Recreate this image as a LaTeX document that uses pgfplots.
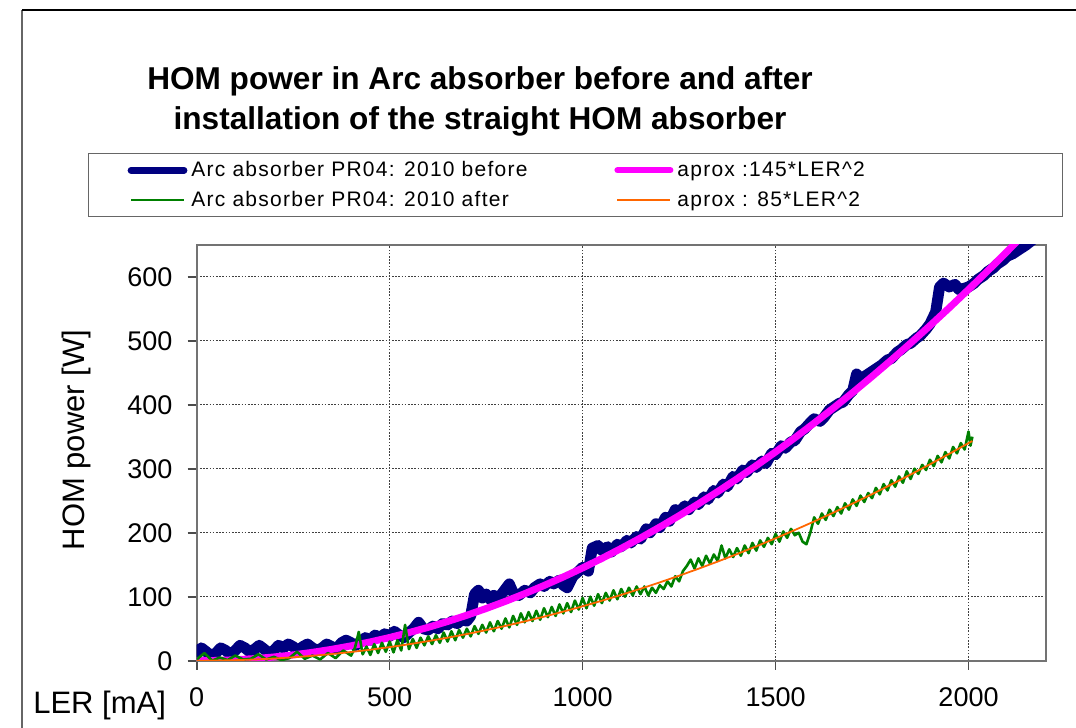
\documentclass[border=0pt]{standalone}
\usepackage{fontspec}
\setmainfont{Liberation Sans}
\newfontfamily\legfont[LetterSpace=6]{Liberation Sans}
\usepackage{pgfplots}
\pgfplotsset{compat=1.18}

\definecolor{navyb}{RGB}{0,0,128}
\definecolor{magb}{RGB}{255,0,255}
\definecolor{grnb}{RGB}{0,128,0}
\definecolor{orb}{RGB}{255,102,0}

\begin{document}
\begin{tikzpicture}
\useasboundingbox (0,0) rectangle (538pt,-364pt);
% outer frame
\draw[black!60, line width=0.7pt] (11pt,-364pt) -- (11pt,-5pt);
\draw[black, line width=0.7pt] (11pt,-5pt) -- (538pt,-5pt);
% title
\node[anchor=base, font=\fontsize{15.8}{18}\selectfont\bfseries, inner sep=0pt] at (240pt,-44.5pt) {HOM power in Arc absorber before and after};
\node[anchor=base, font=\fontsize{15.8}{18}\selectfont\bfseries, inner sep=0pt] at (240pt,-64.5pt) {installation of the straight HOM absorber};

\begin{axis}[
    at={(98.35pt,-330.35pt)}, anchor=south west,
    scale only axis, width=424.5pt, height=208pt,
    xmin=0, xmax=2200, ymin=0, ymax=650,
    xtick={0,500,1000,1500,2000}, ytick={0,100,200,300,400,500,600},
    xtick pos=bottom, ytick pos=left,
    tick align=outside, major tick length=4.5pt,
    grid=major,
    major grid style={black!75, line width=0.6pt, dash pattern=on 0.8pt off 0.8pt},
    axis line style={black!55, line width=1pt},
    tick style={black!70, line width=0.8pt},
    /pgf/number format/assume math mode=true,
    /pgf/number format/set thousands separator={},
    scaled ticks=false,
    ticklabel style={font=\fontsize{13.5}{16}\selectfont},
    xticklabel style={anchor=north, inner sep=0pt, text height=9.7pt, text depth=0pt, yshift=-8.5pt},
    yticklabel style={anchor=east, inner sep=0pt, text height=9.7pt, text depth=0pt, xshift=-7.5pt},
    xlabel={LER [mA]},
    xlabel style={at={(axis description cs:-0.1143,-0.1257)}, anchor=base, inner sep=0pt, font=\fontsize{15.5}{18}\selectfont},
    ylabel={HOM power [W]},
    ylabel style={at={(axis description cs:-0.1316,0.5305)}, anchor=base, inner sep=0pt, font=\fontsize{15.5}{18}\selectfont},
    legend columns=2,
    legend cell align=left,
    legend style={at={(-0.1280,1.2204)}, anchor=north west,
        draw=black!60, line width=0.6pt, fill=white,
        inner xsep=19.5pt, inner ysep=0.8pt, column sep=2pt, row sep=0pt,
        font=\fontsize{10.5}{12}\legfont,
        nodes={inner sep=0pt, text height=10.5pt, text depth=4.5pt}},
]

\addplot[navyb, line width=5.5pt, line join=round, line cap=round,
    legend image code/.code={\draw[navyb, line width=3.4pt, line cap=round] (0pt,0pt) -- (26.5pt,0pt);}]
coordinates {
(0,12) (12,20) (25,14) (37,8) (50,12) (62,20) (75,16) (87,10) (100,16)
(112,24) (125,20) (137,14) (150,18) (162,24) (175,18) (187,12) (200,16)
(212,24) (225,20) (237,26) (250,22) (262,16) (275,22) (287,26) (300,20)
(312,16) (325,20) (337,26) (350,22) (362,18) (375,28) (387,32) (400,28)
(412,24) (425,30) (437,36) (450,32) (462,40) (475,36) (487,42) (500,38)
(512,46) (525,40) (537,36) (550,44) (562,50) (575,60) (587,50) (600,48)
(612,54) (625,50) (637,58) (650,56) (662,62) (675,58) (687,64) (700,62)
(710,70) (720,104) (730,110) (740,98) (750,104) (760,96) (770,102)
(780,94) (790,104) (800,112) (810,120) (820,106) (835,102) (850,110)
(865,106) (875,114) (890,120) (900,116) (915,124) (925,120) (940,126)
(950,118) (960,114) (975,132) (990,140) (1000,146) (1015,140) (1025,176)
(1040,180) (1050,172) (1065,178) (1075,170) (1090,182) (1100,178)
(1115,188) (1125,184) (1140,194) (1150,190) (1165,206) (1175,200)
(1190,214) (1200,208) (1215,224) (1225,218) (1240,236) (1250,232)
(1265,242) (1275,236) (1290,248) (1300,244) (1315,256) (1325,252)
(1340,266) (1350,262) (1365,276) (1375,272) (1390,288) (1400,284)
(1415,298) (1425,294) (1440,306) (1450,302) (1465,312) (1475,308)
(1490,324) (1500,322) (1515,336) (1525,332) (1540,342) (1550,344)
(1565,358) (1575,362) (1590,372) (1600,378) (1615,374) (1625,380)
(1640,392) (1650,396) (1665,402) (1675,404) (1690,416) (1700,422)
(1710,448) (1720,440) (1735,446) (1750,452) (1765,458) (1775,462)
(1790,470) (1800,472) (1815,482) (1825,486) (1840,494) (1850,496)
(1865,504) (1875,508) (1890,518) (1900,526) (1915,545) (1925,584)
(1935,590) (1950,584) (1965,588) (1975,580) (1990,582) (2000,584)
(2015,590) (2025,596) (2040,602) (2050,608) (2065,614) (2075,620)
(2090,626) (2100,632) (2115,636) (2125,640) (2140,646) (2150,650)
(2175,662)
};
\addlegendentry{\makebox[209.5pt][l]{Arc absorber PR04: 2010 before}}

\addplot[magb, line width=3.5pt, line join=round,
    legend image code/.code={\draw[magb, line width=3pt, line cap=round] (0pt,0pt) -- (26.5pt,0pt);}]
coordinates {
(0,0) (50,0.36) (100,1.45) (150,3.26) (200,5.8) (250,9.06) (300,13.05)
(350,17.76) (400,23.2) (450,29.36) (500,36.25) (550,43.86) (600,52.2)
(650,61.26) (700,71.05) (750,81.56) (800,92.8) (850,104.76) (900,117.45)
(950,130.86) (1000,145) (1050,159.86) (1100,175.45) (1150,191.76)
(1200,208.8) (1250,226.56) (1300,245.05) (1350,264.26) (1400,284.2)
(1450,304.86) (1500,326.25) (1550,348.36) (1600,371.2) (1650,394.76)
(1700,419.05) (1750,444.06) (1800,469.8) (1850,496.26) (1900,523.45)
(1950,551.36) (2000,580) (2050,609.36) (2100,639.45) (2150,670.26)
};
\addlegendentry{\makebox[173pt][l]{aprox :145*LER\textasciicircum 2}}

\addplot[grnb, line width=1.3pt, line join=round,
    legend image code/.code={\draw[grnb, line width=1.2pt] (0pt,0pt) -- (26.5pt,0pt);}]
coordinates {
(0,2) (20,12) (40,0) (60,5) (80,1) (100,8) (120,2) (140,3) (160,10) (180,2)
(200,6) (220,1) (240,4) (260,14) (280,3) (300,8) (320,2) (340,12) (360,4)
(380,16) (400,8) (410,20) (420,45) (430,10) (440,22) (450,9) (460,26)
(470,12) (480,28) (490,14) (500,30) (510,13) (520,32) (530,16) (540,56)
(550,18) (560,34) (570,20) (580,36) (590,24) (600,38) (610,26) (620,40)
(630,28) (640,44) (650,30) (660,46) (670,32) (680,48) (690,36) (700,50)
(710,38) (720,54) (730,42) (740,56) (750,44) (760,60) (770,46) (780,62)
(790,50) (800,66) (810,52) (820,70) (830,56) (840,74) (850,60) (860,76)
(870,62) (880,78) (890,64) (900,82) (910,68) (920,84) (930,70) (940,88)
(950,74) (960,90) (970,76) (980,94) (990,80) (1000,98) (1010,82)
(1020,100) (1030,86) (1040,104) (1050,90) (1060,106) (1070,94) (1080,110)
(1090,96) (1100,112) (1110,100) (1120,114) (1130,102) (1140,116)
(1150,104) (1160,116) (1170,102) (1180,114) (1190,106) (1200,118)
(1210,112) (1220,124) (1230,116) (1240,132) (1250,124) (1260,140)
(1270,148) (1280,158) (1290,144) (1300,160) (1310,148) (1320,164)
(1330,152) (1340,166) (1350,156) (1360,180) (1370,160) (1380,174)
(1390,162) (1400,176) (1410,164) (1420,180) (1430,168) (1440,184)
(1450,172) (1460,188) (1470,178) (1480,192) (1490,182) (1500,198)
(1510,186) (1520,202) (1530,192) (1540,206) (1550,196) (1560,200)
(1570,186) (1580,182) (1590,200) (1600,224) (1610,214) (1620,230)
(1630,220) (1640,236) (1650,226) (1660,240) (1670,230) (1680,246)
(1690,236) (1700,252) (1710,242) (1720,258) (1730,248) (1740,262)
(1750,254) (1760,270) (1770,260) (1780,276) (1790,266) (1800,282)
(1810,272) (1820,288) (1830,278) (1840,296) (1850,284) (1860,300)
(1870,292) (1880,306) (1890,298) (1900,314) (1910,304) (1920,320)
(1930,310) (1940,326) (1950,316) (1960,334) (1970,324) (1980,340)
(1990,330) (2000,358) (2005,336) (2010,350)
};
\addlegendentry{\makebox[209.5pt][l]{Arc absorber PR04: 2010 after}}

\addplot[orb, line width=0.9pt, line join=round,
    legend image code/.code={\draw[orb, line width=1.2pt] (0pt,0pt) -- (26.5pt,0pt);}]
coordinates {
(0,0) (50,0.21) (100,0.85) (150,1.91) (200,3.4) (250,5.31) (300,7.65)
(350,10.41) (400,13.6) (450,17.21) (500,21.25) (550,25.71) (600,30.6)
(650,35.91) (700,41.65) (750,47.81) (800,54.4) (850,61.41) (900,68.85)
(950,76.71) (1000,85) (1050,93.71) (1100,102.85) (1150,112.41)
(1200,122.4) (1250,132.81) (1300,143.65) (1350,154.91) (1400,166.6)
(1450,178.71) (1500,191.25) (1550,204.21) (1600,217.6) (1650,231.41)
(1700,245.65) (1750,260.31) (1800,275.4) (1850,290.91) (1900,306.85)
(1950,323.21) (2000,340) (2010,343.4)
};
\addlegendentry{\makebox[173pt][l]{aprox : 85*LER\textasciicircum 2}}

\end{axis}
\end{tikzpicture}
\end{document}
